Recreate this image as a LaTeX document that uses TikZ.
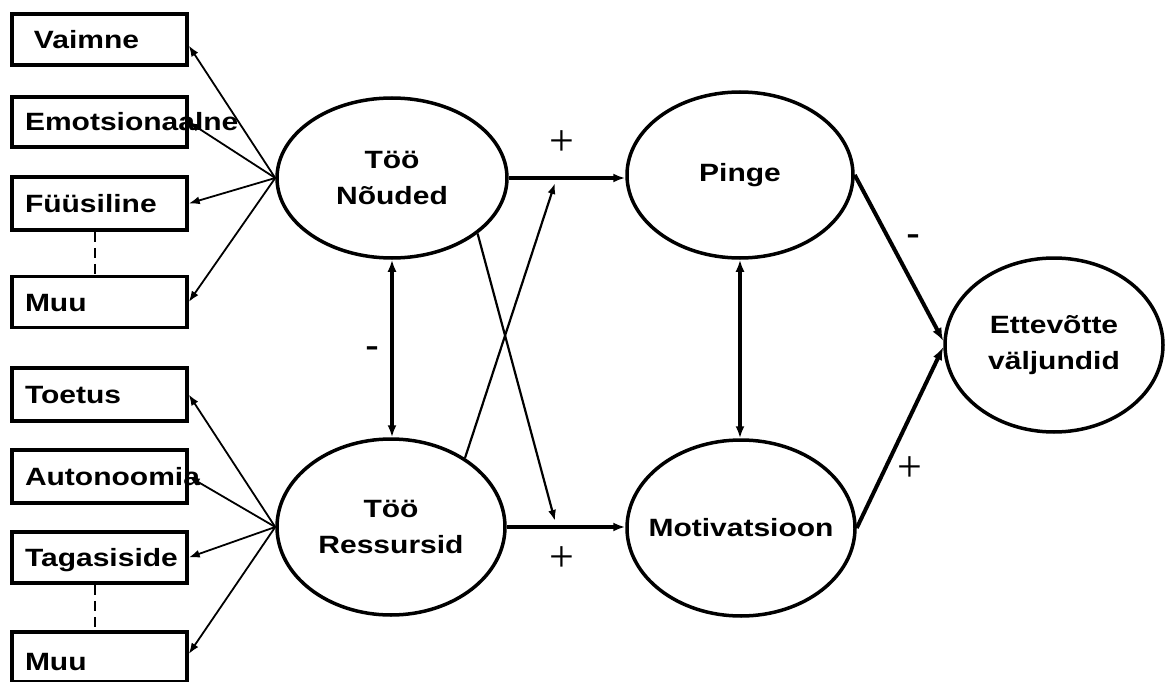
\documentclass[tikz,border=0pt]{standalone}
\usepackage{fontspec}
\setmainfont{Liberation Sans}[FakeStretch=1.2]
\newfontfamily\signfont{Liberation Serif}
\newfontfamily\minusfont{Liberation Sans}
\usetikzlibrary{shapes.geometric,arrows.meta}
\newcommand\lblfont{\bfseries\fontsize{25}{36}\selectfont}
\begin{document}
\begin{tikzpicture}[x=1pt,y=-1pt,
  box/.style={draw, line width=3.5pt, minimum width=175pt, text width=149pt,
    inner xsep=13pt, inner ysep=0pt, align=left, text height=18pt, text depth=0pt,
    font=\lblfont},
  ell/.style={draw, ellipse, line width=3.5pt, inner sep=0pt, align=center, font=\lblfont},
  fan/.style={-{Latex[length=11pt,width=8pt]}, line width=1.8pt},
  cross/.style={-{Latex[length=11pt,width=8pt]}, line width=2.2pt},
  thick arrow/.style={-{Latex[length=12pt,width=9pt]}, line width=3.2pt},
  both arrow/.style={{Latex[length=12pt,width=9pt]}-{Latex[length=12pt,width=9pt]}, line width=3.2pt},
  out arrow/.style={-{Latex[length=13pt,width=10pt]}, line width=4pt},
  dotted link/.style={dash pattern=on 10pt off 6pt, line width=2.6pt},
  plus/.style={font=\signfont\fontsize{44}{44}\selectfont, inner sep=0pt, anchor=base},
  minus/.style={font=\minusfont\fontsize{42}{42}\selectfont, inner sep=0pt, anchor=base}
]
\useasboundingbox (0,0) rectangle (1165,682);

% left boxes
\node[box, minimum height=51pt] (v)   at (99.5,39.5)  {\hspace*{9pt}Vaimne};
\node[box, minimum height=50pt] (em)  at (99.5,122)   {Emotsionaalne};
\node[box, minimum height=53pt] (fu)  at (99.5,203.5) {Füüsiline};
\node[box, minimum height=51pt] (mu1) at (99.5,302)   {Muu};
\node[box, minimum height=53pt] (to)  at (99.5,394.5) {Toetus};
\node[box, minimum height=53pt] (au)  at (99.5,476.5) {Autonoomia};
\node[box, minimum height=51pt] (ta)  at (99.5,557.5) {Tagasiside};
\node[box, minimum height=50pt, text height=27pt] (mu2) at (99.5,657) {Muu};

% ellipses
\node[ell, minimum width=230pt, minimum height=160pt] (nd) at (392,178) {Töö\\Nõuded};
\node[ell, minimum width=228pt, minimum height=176pt] (rs) at (391,527) {Töö\\Ressursid};
\node[ell, minimum width=226pt, minimum height=166pt] (pi) at (740,175) {Pinge};
\node[ell, minimum width=228pt, minimum height=176pt] (mo) at (741,528) {\makebox[0pt]{Motivatsioon}};
\node[ell, minimum width=218pt, minimum height=174pt] (et) at (1054,345) {Ettevõtte\\väljundid};

% dashed links
\draw[dotted link] ([xshift=-4.5pt]fu.south) -- ([xshift=-4.5pt]mu1.north);
\draw[dotted link] ([xshift=-4.5pt]ta.south) -- ([xshift=-4.5pt]mu2.north);

% fan arrows
\draw[fan] (nd.west) -- ([yshift=-6pt]v.east);
\draw[fan] (nd.west) -- (em.east);
\draw[fan] (nd.west) -- (fu.east);
\draw[fan] (nd.west) -- (mu1.east);
\draw[fan] (rs.west) -- (to.east);
\draw[fan] (rs.west) -- (au.east);
\draw[fan] (rs.west) -- (ta.east);
\draw[fan] (rs.west) -- ([yshift=3pt]mu2.east);

% middle arrows
\coordinate (c1) at (555,521);
\coordinate (c2) at (555,183);
\draw[thick arrow] (nd.east) -- (nd.east -| pi.west);
\draw[thick arrow] (rs.east) -- (rs.east -| mo.west);
\draw[cross] (nd.-33.5) -- (c1);
\draw[cross] (rs.43.4) -- (c2);
\draw[both arrow] (nd.south) -- (nd.south |- rs.north);
\draw[both arrow] (pi.south) -- (pi.south |- mo.north);

% to outcome
\draw[out arrow] (pi.east) -- ([yshift=4pt]et.west);
\draw[out arrow] (mo.east) -- ([yshift=-2pt]et.west);

% signs
\node[plus] (p1) at (562,156) {+};
\node[plus] (p2) at (562,571) {+};
\node[plus] (p3) at (910,481) {+};
\node[minus] (m1) at (913,247) {-};
\node[minus] (m2) at (372,359) {-};
\end{tikzpicture}
\end{document}
